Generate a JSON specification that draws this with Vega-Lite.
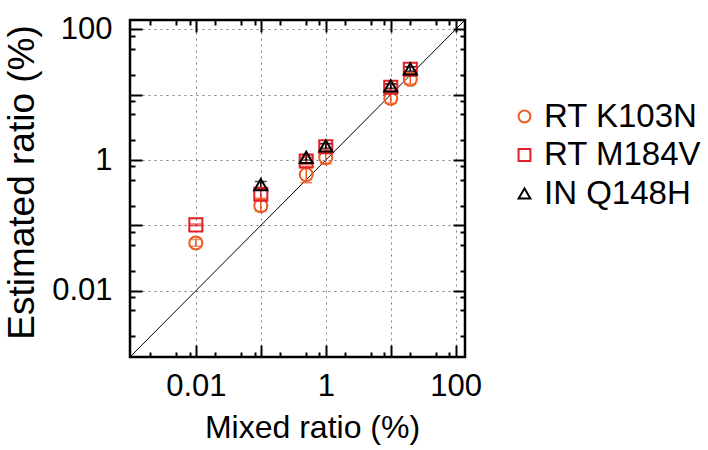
{
  "$schema": "https://vega.github.io/schema/vega-lite/v6.json",
  "width": 335,
  "height": 337,
  "autosize": "none",
  "padding": {"left": 130, "top": 20, "right": 243, "bottom": 93},
  "background": "white",
  "config": {
    "view": {"stroke": "black", "strokeWidth": 2.5},
    "font": "Liberation Sans",
    "axis": {"domain": false, "tickColor": "black", "tickWidth": 2, "labelColor": "black", "titleColor": "black", "titleFontWeight": "normal", "labelFont": "Liberation Sans", "titleFont": "Liberation Sans"}
  },
  "data": {
    "values": [
      {"series": "RT K103N", "mixed": 0.01, "est": 0.054, "low": 0.048, "high": 0.061},
      {"series": "RT K103N", "mixed": 0.1, "est": 0.2, "low": 0.165, "high": 0.26},
      {"series": "RT K103N", "mixed": 0.5, "est": 0.6, "low": 0.45, "high": 0.8},
      {"series": "RT K103N", "mixed": 1, "est": 1.09, "low": 0.88, "high": 1.33},
      {"series": "RT K103N", "mixed": 10, "est": 8.8, "low": 7.4, "high": 10.6},
      {"series": "RT K103N", "mixed": 20, "est": 17.2, "low": 14.6, "high": 20.3},
      {"series": "RT M184V", "mixed": 0.01, "est": 0.102, "low": 0.099, "high": 0.105},
      {"series": "RT M184V", "mixed": 0.1, "est": 0.3, "low": 0.25, "high": 0.36},
      {"series": "RT M184V", "mixed": 0.5, "est": 0.97, "low": 0.86, "high": 1.1},
      {"series": "RT M184V", "mixed": 1, "est": 1.6, "low": 1.45, "high": 1.76},
      {"series": "RT M184V", "mixed": 10, "est": 13, "low": 11.8, "high": 14.3},
      {"series": "RT M184V", "mixed": 20, "est": 24.5, "low": 22.3, "high": 26.9},
      {"series": "IN Q148H", "mixed": 0.1, "est": 0.42, "low": 0.37, "high": 0.47},
      {"series": "IN Q148H", "mixed": 0.5, "est": 1.1, "low": 1.0, "high": 1.21},
      {"series": "IN Q148H", "mixed": 1, "est": 1.65, "low": 1.52, "high": 1.79},
      {"series": "IN Q148H", "mixed": 10, "est": 13.6, "low": 12.6, "high": 14.7},
      {"series": "IN Q148H", "mixed": 20, "est": 24.8, "low": 23, "high": 26.7}
    ]
  },
  "resolve": {"axis": {"x": "independent", "y": "independent"}},
  "layer": [
    {
      "data": {"values": [{"v": 0.00097}, {"v": 139}]},
      "mark": {"type": "line", "color": "black", "strokeWidth": 1},
      "encoding": {
        "x": {"field": "v", "type": "quantitative",
          "scale": {"type": "log", "domain": [0.00097, 139], "nice": false},
          "axis": {"orient": "bottom", "values": [0.01, 0.1, 1, 10, 100], "tickSize": -12,
            "labelExpr": "datum.value == 0.01 ? '0.01' : datum.value == 1 ? '1' : datum.value == 100 ? '100' : ''",
            "labelFontSize": 31, "labelBaseline": "alphabetic", "labelPadding": 50, "labelFlush": false, "labelOverlap": false,
            "grid": true, "gridColor": "#808080", "gridDash": [2, 4], "gridWidth": 1,
            "title": "Mixed ratio (%)", "titleFontSize": 32, "titleX": 182, "titleY": 80, "titleBaseline": "alphabetic", "titleAlign": "center"}},
        "y": {"field": "v", "type": "quantitative",
          "scale": {"type": "log", "domain": [0.00097, 139], "nice": false},
          "axis": {"orient": "left", "values": [0.01, 0.1, 1, 10, 100], "tickSize": -12,
            "labelExpr": "datum.value == 0.01 ? '0.01' : datum.value == 1 ? '1' : datum.value == 100 ? '100' : ''",
            "labelFontSize": 31, "labelPadding": 30, "labelFlush": false, "labelOverlap": false,
            "grid": true, "gridColor": "#808080", "gridDash": [2, 4], "gridWidth": 1,
            "title": "Estimated ratio (%)", "titleFontSize": 37, "titleX": -97, "titleY": 162, "titleBaseline": "alphabetic", "titleAlign": "center", "titleAngle": 270}}
      }
    },
    {
      "mark": {"type": "rule", "strokeWidth": 1.5},
      "encoding": {
        "x": {"field": "mixed", "type": "quantitative",
          "scale": {"type": "log", "domain": [0.00097, 139], "nice": false},
          "axis": {"orient": "bottom", "values": [0.002, 0.005, 0.008, 0.02, 0.05, 0.08, 0.2, 0.5, 0.8, 2, 5, 8, 20, 50, 80], "tickSize": -5, "labels": false, "grid": false, "title": null}},
        "y": {"field": "low", "type": "quantitative",
          "scale": {"type": "log", "domain": [0.00097, 139], "nice": false},
          "axis": {"orient": "left", "values": [0.002, 0.005, 0.008, 0.02, 0.05, 0.08, 0.2, 0.5, 0.8, 2, 5, 8, 20, 50, 80], "tickSize": -5, "labels": false, "grid": false, "title": null}},
        "y2": {"field": "high"},
        "stroke": {"field": "series", "type": "nominal",
          "scale": {"domain": ["IN Q148H", "RT K103N", "RT M184V"], "range": ["#000000", "#EF5A1F", "#E31E26"]},
          "legend": null}
      }
    },
    {
      "transform": [{"fold": ["low", "high"], "as": ["end", "ev"]}],
      "mark": {"type": "tick", "orient": "horizontal", "size": 12, "thickness": 1.5},
      "encoding": {
        "x": {"field": "mixed", "type": "quantitative",
          "scale": {"type": "log", "domain": [0.00097, 139], "nice": false},
          "axis": {"orient": "top", "values": [0.01, 0.1, 1, 10, 100], "tickSize": -12, "labels": false, "grid": false, "title": null}},
        "y": {"field": "ev", "type": "quantitative",
          "scale": {"type": "log", "domain": [0.00097, 139], "nice": false},
          "axis": {"orient": "right", "values": [0.01, 0.1, 1, 10, 100], "tickSize": -12, "labels": false, "grid": false, "title": null}},
        "fill": {"field": "series", "type": "nominal",
          "scale": {"domain": ["RT M184V", "IN Q148H", "RT K103N"], "range": ["#E31E26", "#000000", "#EF5A1F"]},
          "legend": null}
      }
    },
    {
      "mark": {"type": "point", "filled": false, "strokeWidth": 2, "size": 170, "opacity": 1},
      "encoding": {
        "x": {"field": "mixed", "type": "quantitative",
          "scale": {"type": "log", "domain": [0.00097, 139], "nice": false},
          "axis": {"orient": "top", "values": [0.002, 0.005, 0.008, 0.02, 0.05, 0.08, 0.2, 0.5, 0.8, 2, 5, 8, 20, 50, 80], "tickSize": -5, "labels": false, "grid": false, "title": null}},
        "y": {"field": "est", "type": "quantitative",
          "scale": {"type": "log", "domain": [0.00097, 139], "nice": false},
          "axis": {"orient": "right", "values": [0.002, 0.005, 0.008, 0.02, 0.05, 0.08, 0.2, 0.5, 0.8, 2, 5, 8, 20, 50, 80], "tickSize": -5, "labels": false, "grid": false, "title": null}},
        "color": {"field": "series", "type": "nominal",
          "scale": {"domain": ["RT K103N", "RT M184V", "IN Q148H"], "range": ["#EF5A1F", "#E31E26", "#000000"]},
          "legend": {"orient": "none", "legendX": 378, "legendY": 80, "title": null, "labelFontSize": 33, "labelFont": "Liberation Sans", "labelColor": "black", "symbolSize": 140, "symbolStrokeWidth": 2, "labelOffset": 3, "rowPadding": 4.5, "padding": 0}},
        "shape": {"field": "series", "type": "nominal",
          "scale": {"domain": ["RT K103N", "RT M184V", "IN Q148H"], "range": ["circle", "square", "triangle-up"]},
          "legend": {"orient": "none", "legendX": 378, "legendY": 80, "title": null, "labelFontSize": 33, "labelFont": "Liberation Sans", "labelColor": "black", "symbolSize": 140, "symbolStrokeWidth": 2, "labelOffset": 3, "rowPadding": 4.5, "padding": 0}}
      }
    }
  ]
}
